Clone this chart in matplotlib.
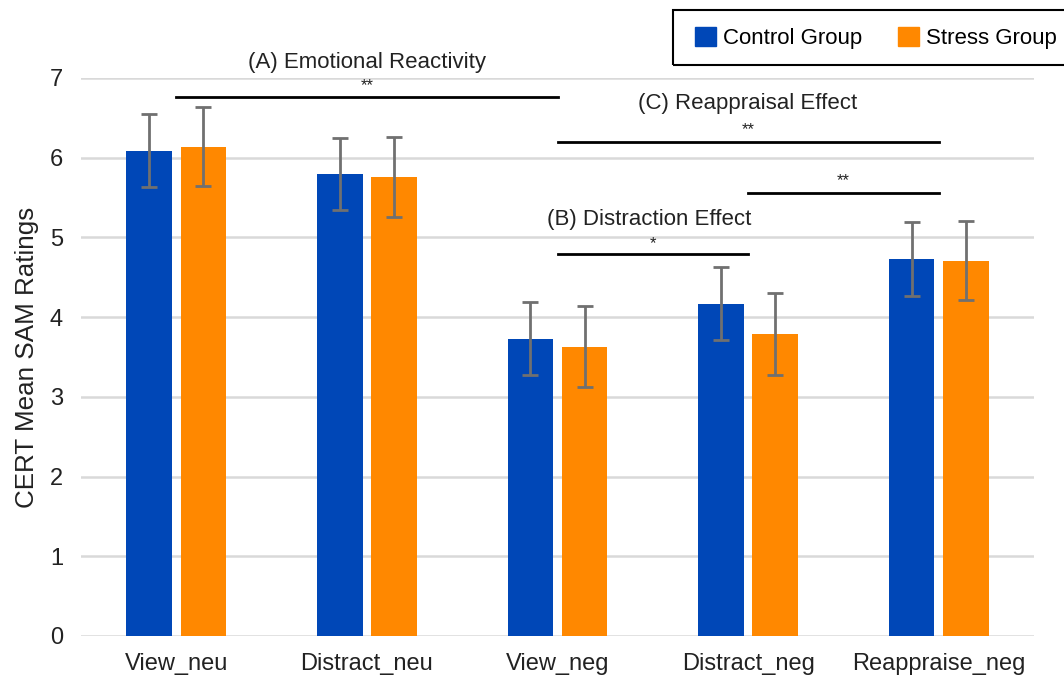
import matplotlib.pyplot as plt
import numpy as np
from matplotlib.patches import Patch, Rectangle

plt.rcParams['font.family'] = ['Liberation Sans', 'DejaVu Sans']

conditions = ["View_neu", "Distract_neu", "View_neg", "Distract_neg", "Reappraise_neg"]
control = [6.09, 5.80, 3.73, 4.17, 4.73]
stress = [6.14, 5.76, 3.63, 3.79, 4.71]
control_err = [0.46, 0.45, 0.46, 0.46, 0.46]
stress_err = [0.50, 0.50, 0.51, 0.51, 0.50]

blue = "#0047b7"
orange = "#ff8800"

fig = plt.figure(figsize=(10.64, 6.8), dpi=100)
ax = fig.add_axes([81/1064, 1-636/680, (1034-81)/1064, (636-78)/680])

x = np.arange(len(conditions))
w = 0.239
off = 0.142
ax.bar(x - off, control, w, color=blue, zorder=2)
ax.bar(x + off, stress, w, color=orange, zorder=2)
ax.errorbar(x - off, control, yerr=control_err, fmt="none", ecolor="#707070",
            elinewidth=2, capsize=6, capthick=2, zorder=3)
ax.errorbar(x + off, stress, yerr=stress_err, fmt="none", ecolor="#707070",
            elinewidth=2, capsize=6, capthick=2, zorder=3)

ax.set_xlim(-0.5, 4.5)
ax.set_ylim(0, 7)
ax.set_yticks(range(8))
ax.yaxis.grid(True, color="#d9d9d9", linewidth=1.8, zorder=0)
ax.set_axisbelow(True)
for s in ax.spines.values():
    s.set_visible(False)
ax.tick_params(length=0, labelsize=17, colors="#222222", pad=12)
ax.tick_params(axis="y", pad=13)
ax.set_xticks(x)
ax.set_xticklabels(conditions)
ax.set_ylabel("CERT Mean SAM Ratings", fontsize=18.7, color="#222222", labelpad=8)

# significance brackets
def sig(x1, x2, y, stars, ys):
    ax.plot([x1, x2], [y, y], color="black", lw=2, clip_on=False, zorder=4)
    ax.text((x1 + x2) / 2, ys, stars, ha="center", va="center", fontsize=12,
            color="#222222")

sig(0, 2, 6.76, "**", 6.91)
ax.text(1.0, 7.2, "(A) Emotional Reactivity", ha="center", va="center",
        fontsize=16, color="#222222", clip_on=False)
sig(2, 4, 6.20, "**", 6.35)
ax.text(3.0, 6.68, "(C) Reappraisal Effect", ha="center", va="center",
        fontsize=16, color="#222222")
sig(3, 4, 5.56, "**", 5.71)
sig(2, 3, 4.79, "*", 4.92)
ax.text(2.48, 5.23, "(B) Distraction Effect", ha="center", va="center",
        fontsize=16, color="#222222")

# legend, its box runs off the right edge like in the original
handles = [Patch(color=blue, label="Control Group"), Patch(color=orange, label="Stress Group")]
leg = fig.legend(handles=handles, loc="center left", bbox_to_anchor=(695/1064, 1-38/680),
                 ncol=2, fontsize=16, frameon=False,
                 handlelength=0.95, handleheight=0.95, handletextpad=0.32, columnspacing=1.6,
                 borderpad=0, borderaxespad=0)
fig.patches.append(Rectangle((673/1064, 1-65/680), 400/1064, 55/680, transform=fig.transFigure,
                             fill=False, edgecolor="black", linewidth=1.5))

fig.savefig("out.png", dpi=100, facecolor="white")
